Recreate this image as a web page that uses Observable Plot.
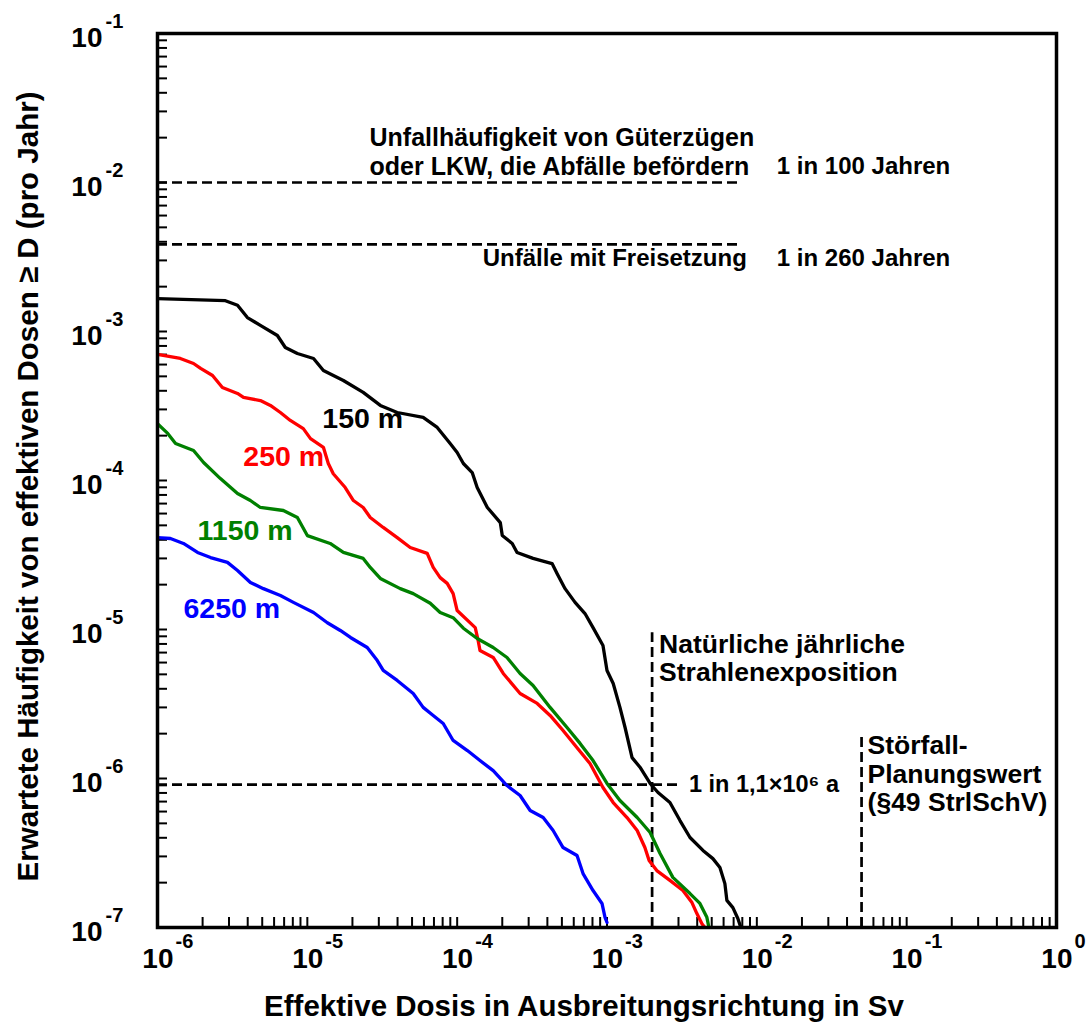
<!DOCTYPE html>
<html><head><meta charset="utf-8">
<script src="https://cdn.jsdelivr.net/npm/d3@7"></script>
<script src="https://cdn.jsdelivr.net/npm/@observablehq/plot@0.6"></script>
<style>body{margin:0;background:#fff} svg{display:block}</style>
</head><body><div id="chart"></div>
<script>
// ---- Data (dose in Sv, expected frequency per year) ----
const dose150 = [1e-6, 2.84e-6, 3.42e-6, 3.98e-6, 4.86e-6, 6.31e-6, 7.13e-6, 8.58e-6, 1.10e-5, 1.28e-5, 1.74e-5, 2.36e-5, 3.07e-5, 3.98e-5, 5.93e-5, 7.36e-5, 8.98e-5, 1.00e-4, 1.10e-4, 1.26e-4, 1.36e-4, 1.59e-4, 1.94e-4, 2.00e-4, 2.33e-4, 2.51e-4, 3.21e-4, 4.30e-4, 4.64e-4, 5.25e-4, 6.12e-4, 7.13e-4, 8.07e-4, 9.40e-4, 1.00e-3, 1.10e-3, 1.22e-3, 1.32e-3, 1.47e-3, 1.66e-3, 1.94e-3, 2.19e-3, 2.63e-3, 3.07e-3, 3.58e-3, 4.37e-3, 5.09e-3, 5.67e-3, 6.12e-3, 6.31e-3, 6.92e-3, 7.47e-3, 7.82e-3];
const freq150 = [1.66e-3, 1.61e-3, 1.50e-3, 1.24e-3, 1.10e-3, 9.40e-4, 7.81e-4, 7.12e-4, 6.59e-4, 5.47e-4, 4.69e-4, 3.90e-4, 3.19e-4, 2.86e-4, 2.65e-4, 2.27e-4, 1.77e-4, 1.54e-4, 1.30e-4, 1.13e-4, 8.97e-5, 6.59e-5, 5.22e-5, 4.27e-5, 3.78e-5, 3.29e-5, 3.00e-5, 2.77e-5, 2.38e-5, 1.88e-5, 1.52e-5, 1.28e-5, 1.03e-5, 7.81e-6, 5.31e-6, 4.34e-6, 3.00e-6, 2.20e-6, 1.38e-6, 1.19e-6, 9.26e-7, 8.05e-7, 6.90e-7, 5.22e-7, 4.02e-7, 3.29e-7, 2.90e-7, 2.53e-7, 1.97e-7, 1.52e-7, 1.36e-7, 1.15e-7, 1.00e-7];

const dose250 = [1e-6, 1.42e-6, 1.74e-6, 1.94e-6, 2.33e-6, 2.71e-6, 3.42e-6, 3.75e-6, 4.86e-6, 5.67e-6, 6.61e-6, 7.70e-6, 9.40e-6, 1.05e-5, 1.28e-5, 1.38e-5, 1.49e-5, 1.79e-5, 2.03e-5, 2.36e-5, 2.63e-5, 3.21e-5, 3.98e-5, 4.86e-5, 6.31e-5, 6.92e-5, 7.70e-5, 8.58e-5, 9.40e-5, 1.00e-4, 1.32e-4, 1.38e-4, 1.42e-4, 1.74e-4, 2.03e-4, 2.63e-4, 3.42e-4, 4.17e-4, 5.09e-4, 6.31e-4, 7.70e-4, 9.40e-4, 1.10e-3, 1.36e-3, 1.59e-3, 1.79e-3, 1.91e-3, 2.15e-3, 2.63e-3, 3.21e-3, 3.69e-3, 3.98e-3, 4.30e-3, 4.50e-3];
const freq250 = [7.01e-4, 6.59e-4, 6.10e-4, 5.65e-4, 5.07e-4, 4.21e-4, 3.84e-4, 3.61e-4, 3.44e-4, 3.19e-4, 2.86e-4, 2.53e-4, 2.23e-4, 1.91e-4, 1.67e-4, 1.30e-4, 1.11e-4, 8.97e-5, 7.34e-5, 6.59e-5, 5.65e-5, 4.84e-5, 4.14e-5, 3.55e-5, 3.24e-5, 2.61e-5, 2.23e-5, 2.04e-5, 1.74e-5, 1.34e-5, 1.03e-5, 8.44e-6, 7.23e-6, 6.49e-6, 5.07e-6, 3.72e-6, 3.19e-6, 2.65e-6, 2.10e-6, 1.61e-6, 1.26e-6, 8.70e-7, 6.90e-7, 5.47e-7, 4.48e-7, 3.44e-7, 2.82e-7, 2.41e-7, 2.07e-7, 1.77e-7, 1.47e-7, 1.24e-7, 1.06e-7, 1.00e-7];

const dose1150 = [1e-6, 1.17e-6, 1.32e-6, 1.74e-6, 2.03e-6, 2.63e-6, 3.42e-6, 4.17e-6, 4.86e-6, 6.92e-6, 8.58e-6, 1.00e-5, 1.42e-5, 1.74e-5, 2.36e-5, 2.63e-5, 3.07e-5, 4.17e-5, 5.09e-5, 6.61e-5, 7.70e-5, 9.40e-5, 1.10e-4, 1.36e-4, 1.74e-4, 2.15e-4, 2.63e-4, 3.21e-4, 4.17e-4, 5.41e-4, 6.61e-4, 8.07e-4, 1.00e-3, 1.22e-3, 1.59e-3, 1.94e-3, 2.26e-3, 2.75e-3, 3.58e-3, 4.17e-3, 4.64e-3, 4.79e-3];
const freq1150 = [2.41e-4, 2.07e-4, 1.77e-4, 1.59e-4, 1.32e-4, 1.03e-4, 8.18e-5, 7.34e-5, 6.59e-5, 6.29e-5, 5.65e-5, 4.27e-5, 3.78e-5, 3.29e-5, 3.00e-5, 2.61e-5, 2.20e-5, 1.88e-5, 1.74e-5, 1.50e-5, 1.30e-5, 1.20e-5, 1.02e-5, 8.70e-6, 7.57e-6, 6.49e-6, 5.07e-6, 4.21e-6, 3.00e-6, 2.20e-6, 1.72e-6, 1.32e-6, 9.26e-7, 7.12e-7, 5.47e-7, 4.34e-7, 3.14e-7, 2.17e-7, 1.69e-7, 1.45e-7, 1.17e-7, 1.00e-7];

const dose6250 = [1e-6, 1.22e-6, 1.49e-6, 1.85e-6, 2.26e-6, 2.93e-6, 3.42e-6, 4.17e-6, 5.09e-6, 6.61e-6, 8.07e-6, 1.10e-5, 1.36e-5, 1.66e-5, 1.94e-5, 2.51e-5, 2.93e-5, 3.21e-5, 3.98e-5, 5.09e-5, 5.93e-5, 6.92e-5, 8.07e-5, 9.40e-5, 1.17e-4, 1.42e-4, 1.74e-4, 2.15e-4, 2.63e-4, 3.07e-4, 3.75e-4, 4.37e-4, 5.09e-4, 6.31e-4, 6.92e-4, 8.07e-4, 9.26e-4, 9.70e-4, 1.00e-3];
const freq6250 = [4.14e-5, 4.08e-5, 3.78e-5, 3.29e-5, 3.04e-5, 2.82e-5, 2.49e-5, 2.07e-5, 1.88e-5, 1.69e-5, 1.52e-5, 1.30e-5, 1.11e-5, 9.85e-6, 8.84e-6, 7.57e-6, 6.19e-6, 5.31e-6, 4.55e-6, 3.72e-6, 3.00e-6, 2.65e-6, 2.34e-6, 1.80e-6, 1.54e-6, 1.32e-6, 1.13e-6, 8.97e-7, 7.69e-7, 6.10e-7, 5.47e-7, 4.48e-7, 3.44e-7, 3.04e-7, 2.30e-7, 1.77e-7, 1.45e-7, 1.17e-7, 1.08e-7];

const seriesNames = ["150 m", "250 m", "1150 m", "6250 m"];
const seriesColors = ["#000000", "#ff0000", "#008000", "#0000ff"];
const seriesDose = [dose150, dose250, dose1150, dose6250];
const seriesFreq = [freq150, freq250, freq1150, freq6250];
// label anchor (data coords) for each series name
const labelDose = [1.26e-5, 3.74e-6, 1.85e-6, 1.49e-6];
const labelFreq = [2.61e-4, 1.43e-4, 4.61e-5, 1.38e-5];

// tick labels
const xDecades = [1e-6, 1e-5, 1e-4, 1e-3, 1e-2, 1e-1, 1];
const xExp = ["-6", "-5", "-4", "-3", "-2", "-1", "0"];
const yDecades = [1e-1, 1e-2, 1e-3, 1e-4, 1e-5, 1e-6, 1e-7];
const yExp = ["-1", "-2", "-3", "-4", "-5", "-6", "-7"];

// reference lines
const refH = [
  {y: 1e-2, x1: 1e-6, x2: 7.7e-3},
  {y: 1 / 260, x1: 1e-6, x2: 7.7e-3},
  {y: 1 / 1.1e6, x1: 1e-6, x2: 3.07e-3}
];
const refV = [
  {x: 2e-3, y1: 1e-7, y2: 9.5e-6},
  {x: 5e-2, y1: 1e-7, y2: 2e-6}
];

// ---- build ----
const rows = seriesNames.flatMap((n, s) => seriesDose[s].map((d, i) => ({series: n, dose: d, freq: seriesFreq[s][i]})));
const labels = seriesNames.map((n, s) => ({series: n, dose: labelDose[s], freq: labelFreq[s]}));
const minorX = d3.range(-6, 0).flatMap(e => d3.range(1, 10).map(m => m * Math.pow(10, e))).concat([1]);
const minorY = d3.range(-7, -1).flatMap(e => d3.range(1, 10).map(m => m * Math.pow(10, e))).concat([1e-1]);

const W = 1092, H = 1035, mL = 157, mR = 36, mT = 33, mB = 108;
const innerW = W - mL - mR, innerH = H - mT - mB;
const font = "'Liberation Sans', Arial, Helvetica, sans-serif";
const txt = (o) => Object.assign({fontFamily: font, fontWeight: "bold", fill: "#000"}, o);

const chart = Plot.plot({
  width: W, height: H,
  marginLeft: mL, marginRight: mR, marginTop: mT, marginBottom: mB,
  x: {type: "log", domain: [1e-6, 1], axis: null},
  y: {type: "log", domain: [1e-7, 1e-1], axis: null},
  color: {domain: seriesNames, range: seriesColors},
  style: {fontFamily: font, background: "#fff", overflow: "visible"},
  marks: [
    // inward minor ticks
    Plot.tickX(minorX, {x: d => d, insetTop: innerH - 10, strokeWidth: 2, stroke: "#000"}),
    Plot.tickY(minorY, {y: d => d, insetRight: innerW - 10, strokeWidth: 2, stroke: "#000"}),
    // reference dashed lines
    Plot.ruleY(refH, {y: "y", x1: "x1", x2: "x2", stroke: "#000", strokeWidth: 2.7, strokeDasharray: "10,5"}),
    Plot.ruleX(refV, {x: "x", y1: "y1", y2: "y2", stroke: "#000", strokeWidth: 2.7, strokeDasharray: "10,5"}),
    // curves
    Plot.line(rows, {x: "dose", y: "freq", z: "series", stroke: "series", strokeWidth: 3.3, clip: true}),
    // series labels
    Plot.text(labels, txt({x: "dose", y: "freq", text: "series", fill: "series", textAnchor: "start", fontSize: 28.5})),
    // frame
    Plot.frame({stroke: "#000", strokeWidth: 3.5}),
    // x tick labels
    Plot.text(xDecades, txt({x: d => d, text: () => "10", frameAnchor: "bottom", dy: 40, dx: 16, textAnchor: "end", fontSize: 28})),
    Plot.text(xDecades, txt({x: d => d, text: (d, i) => xExp[i], frameAnchor: "bottom", dy: 20, dx: 18, textAnchor: "start", fontSize: 20})),
    // y tick labels
    Plot.text(yDecades, txt({y: d => d, text: () => "10", frameAnchor: "left", dx: -55, dy: 5, textAnchor: "end", fontSize: 28})),
    Plot.text(yDecades, txt({y: d => d, text: (d, i) => yExp[i], frameAnchor: "left", dx: -52, dy: -12, textAnchor: "start", fontSize: 20})),
    // axis titles
    Plot.text(["Effektive Dosis in Ausbreitungsrichtung in Sv"], txt({frameAnchor: "bottom", textAnchor: "middle", dy: 88, dx: -23, fontSize: 29.5})),
    Plot.text(["Erwartete Häufigkeit von effektiven Dosen ≥ D (pro Jahr)"], txt({frameAnchor: "left", textAnchor: "middle", rotate: -90, dx: -129, dy: 6, fontSize: 29.5})),
    // annotations
    Plot.text([{x: 2.6e-5, y: 1e-2}], txt({x: "x", y: "y", text: () => "Unfallhäufigkeit von Güterzügen", textAnchor: "start", dy: -45, fontSize: 25})),
    Plot.text([{x: 2.6e-5, y: 1e-2}], txt({x: "x", y: "y", text: () => "oder LKW, die Abfälle befördern", textAnchor: "start", dy: -16, fontSize: 25})),
    Plot.text([{x: 1.36e-2, y: 1e-2}], txt({x: "x", y: "y", text: () => "1 in 100 Jahren", textAnchor: "start", dy: -16, fontSize: 24})),
    Plot.text([{x: 7.7e-3, y: 1 / 260}], txt({x: "x", y: "y", text: () => "Unfälle mit Freisetzung", textAnchor: "end", dx: 7, dy: 14, fontSize: 24})),
    Plot.text([{x: 1.36e-2, y: 1 / 260}], txt({x: "x", y: "y", text: () => "1 in 260 Jahren", textAnchor: "start", dy: 14, fontSize: 24})),
    Plot.text([{x: 2e-3, y: 9.5e-6}], txt({x: "x", y: "y", text: () => "Natürliche jährliche\nStrahlenexposition", textAnchor: "start", lineAnchor: "top", lineHeight: 1.06, dx: 7, fontSize: 26.5})),
    Plot.text([{x: 3.07e-3, y: 1 / 1.1e6}], txt({x: "x", y: "y", text: () => "1 in 1,1×10⁶ a", textAnchor: "start", dx: 9, fontSize: 23.5})),
    Plot.text([{x: 5e-2, y: 2e-6}], txt({x: "x", y: "y", text: () => "Störfall-\nPlanungswert\n(§49 StrlSchV)", textAnchor: "start", lineAnchor: "top", lineHeight: 1.08, dx: 6, fontSize: 26.5}))
  ]
});
document.getElementById("chart").appendChild(chart);
</script>
</body></html>
